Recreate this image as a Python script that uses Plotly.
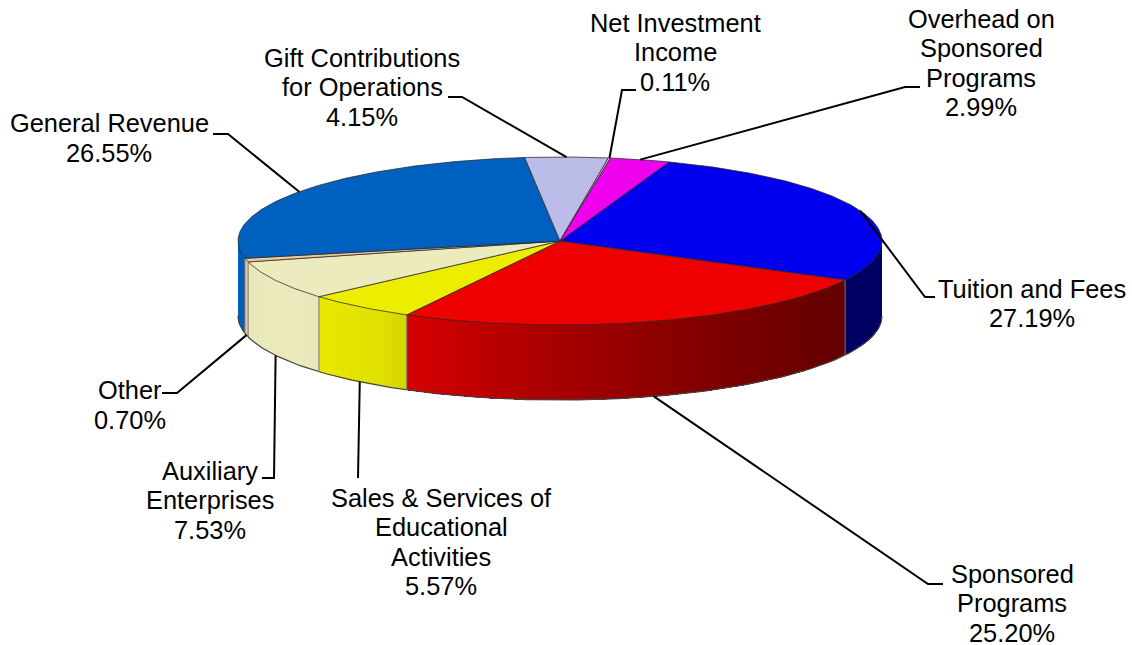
import numpy as np
import plotly.graph_objects as go

# Data, clockwise starting from Tuition and Fees
categories = ["Tuition and Fees", "Sponsored<br>Programs",
              "Sales &amp; Services of<br>Educational<br>Activities",
              "Auxiliary<br>Enterprises", "Other", "General Revenue",
              "Gift Contributions<br>for Operations", "Net Investment<br>Income",
              "Overhead on<br>Sponsored<br>Programs"]
values = [27.19, 25.20, 5.57, 7.53, 0.70, 26.55, 4.15, 0.11, 2.99]
colors = ["#0000ee", "#ee0000", "#eded00", "#ecebbd", "#f0c8a0",
          "#0060c0", "#bcbce8", "#c8c8c8", "#ee00ee"]
label_x = [1032, 1012, 441, 210, 130, 109, 362, 675, 981]
label_y = [303.5, 603, 542, 500, 405, 138, 87, 52, 63]
elbow_a = [(925, 297), (928, 584), (358, 478), (274, 478), (177, 393),
           (228, 134), (462, 97), (622, 90), (905, 87)]
elbow_b = [(935, 297), (943, 584), (358, 478), (262, 478), (162, 393),
           (213, 134), (448, 97), (636, 90), (920, 87)]

# Pie geometry in pixels
CX, CY, RX, RY, DEPTH = 560, 241, 322, 84, 75
START = 19.8
LINE_STEP = 29.5


def rim(t, dy=0.0):
    r = np.radians(t)
    return CX + RX * np.sin(r), CY - RY * np.cos(r) + dy


def shade(hex_color, f):
    rgb = [int(hex_color[i:i + 2], 16) for i in (1, 3, 5)]
    return "rgb(%d,%d,%d)" % tuple(int(c * f) for c in rgb)


def light(t):
    return np.interp(t, [90, 119, 150, 180, 208, 215, 235, 270],
                     [.42, .42, .52, .70, .90, .95, 1.0, .98])


frac = np.array(values) / sum(values) * 360
edges = START + np.concatenate([[0], np.cumsum(frac)])

fig = go.Figure()


def poly(x, y, fill, line, width=1):
    fig.add_trace(go.Scatter(x=x, y=y, mode="lines", fill="toself", fillcolor=fill,
                             line=dict(color=line, width=width), hoverinfo="skip", showlegend=False))


# Side wall, front half only: each band is painted over the previous one so no seams show
for i, col in enumerate(colors):
    a, b = max(edges[i], 90), min(edges[i + 1], 270)
    if b <= a:
        continue
    n = max(1, int((b - a) / 1.5))
    ts = np.linspace(a, b, n + 1)
    for t0, t1 in zip(ts[:-1], ts[1:]):
        seg = np.linspace(t0, b, max(3, int((b - t0) * 2)))
        xt, yt = rim(seg)
        xb, yb = rim(seg[::-1], DEPTH)
        c = shade(col, light((t0 + t1) / 2))
        poly(list(xt) + list(xb), list(yt) + list(yb), c, "rgba(0,0,0,0)", 0)

# Wall outline and slice separators
ts = np.linspace(90, 270, 200)
xb, yb = rim(ts, DEPTH)
fig.add_trace(go.Scatter(x=xb, y=yb, mode="lines", line=dict(color="#444444", width=1.2),
                         hoverinfo="skip", showlegend=False))
for e in list(edges):
    if 90 < e < 270:
        x0, y0 = rim(e)
        x1, y1 = rim(e, DEPTH)
        fig.add_trace(go.Scatter(x=[x0, x1], y=[y0, y1], mode="lines",
                                 line=dict(color="#777777", width=1), hoverinfo="skip", showlegend=False))

# Top face
for i, col in enumerate(colors):
    ts = np.linspace(edges[i], edges[i + 1], max(3, int(frac[i] * 2)))
    x, y = rim(ts)
    poly([CX] + list(x) + [CX], [CY] + list(y) + [CY], col, "rgba(40,40,40,0.75)", 1)

# Leader lines anchored at each slice's mid-angle
mids = (edges[:-1] + edges[1:]) / 2
for i, m in enumerate(mids):
    m = m % 360
    front = 90 < m < 270
    ax, ay = rim(m, DEPTH if front else 0)
    fig.add_trace(go.Scatter(x=[ax, elbow_a[i][0], elbow_b[i][0]], y=[ay, elbow_a[i][1], elbow_b[i][1]],
                             mode="lines", line=dict(color="black", width=2),
                             hoverinfo="skip", showlegend=False))

# Labels: one text per line so the line spacing can match
for name, v, lx, ly in zip(categories, values, label_x, label_y):
    lines = name.split("<br>") + [f"{v:.2f}%"]
    top = ly - LINE_STEP * (len(lines) - 1) / 2
    for k, line in enumerate(lines):
        fig.add_annotation(x=lx, y=top + k * LINE_STEP, xref="x", yref="y", showarrow=False,
                           text=line, xanchor="center", yanchor="middle",
                           font=dict(family="Liberation Sans, Arial, sans-serif", size=25.4, color="black"))

fig.update_layout(width=1132, height=645, margin=dict(l=0, r=0, t=0, b=0),
                  paper_bgcolor="white", plot_bgcolor="white", showlegend=False,
                  xaxis=dict(range=[0, 1132], visible=False, fixedrange=True),
                  yaxis=dict(range=[645, 0], visible=False, fixedrange=True))
fig.write_html("out.html", config={"displayModeBar": False},
               post_script="document.body.style.margin='0';document.body.style.overflow='hidden';")
